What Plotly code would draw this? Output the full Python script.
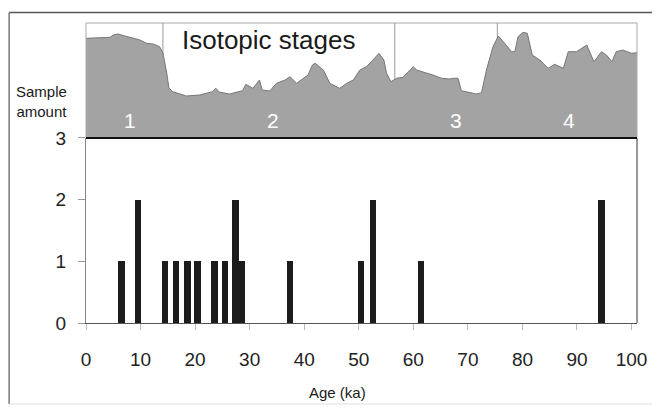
import plotly.graph_objects as go

# ---- data ----
bar_age = [6.5, 9.5, 14.5, 16.5, 18.6, 20.4, 23.6, 25.5, 27.4, 28.6, 37.4, 50.4, 52.6, 61.4, 94.5]
bar_count = [1, 2, 1, 1, 1, 1, 1, 1, 2, 1, 1, 1, 2, 1, 2]

curve_age = [0, 4.4, 5.0, 5.9, 6.8, 9.9, 11.1, 12.3, 13.5, 14.1, 14.8, 15.2, 15.9, 18.4, 20.8,
             23.2, 23.8, 24.4, 26.3, 28.7, 29.3, 30.6, 31.8, 32.3, 33.7, 34.9, 36.5, 37.4, 38.6,
             39.5, 40.7, 41.5, 42.0, 42.9, 43.5, 44.7, 46.5, 47.8, 49.0, 50.2, 51.4, 52.6, 53.7,
             54.6, 55.1, 55.9, 56.9, 58.1, 58.8, 60.0, 60.6, 61.8, 63.6, 65.2, 66.7, 67.3, 68.2,
             68.8, 70.4, 71.6, 72.5, 73.4, 74.6, 75.6, 76.5, 78.0, 78.6, 79.2, 80.1, 80.9, 81.8,
             83.2, 84.7, 85.9, 87.5, 88.4, 89.9, 91.8, 93.1, 94.5, 95.4, 96.4, 97.2, 98.4, 100.0, 101.0]
curve_val = [98.7, 99.7, 102, 103, 101.5, 97, 93.7, 93, 90.3, 84, 64, 49, 45.3, 41, 42,
             45.3, 48.7, 45, 43, 46.3, 52.7, 48.7, 57, 47, 46, 53.7, 57, 60.3, 53.7,
             57, 62, 72, 73.7, 69.7, 67, 53.7, 48.7, 53.7, 57, 67, 70.3, 77, 83.7,
             77, 63.7, 55.3, 58.7, 59.7, 63.7, 70.3, 67, 65.3, 62, 58.7, 58, 58.7, 58.7,
             46.3, 44.7, 43, 44.3, 67, 90.3, 101, 95.3, 85.3, 85.3, 100.3, 104.7, 103.7, 82,
             77, 68.7, 72.7, 68.7, 85.3, 85.3, 92, 75.3, 85.3, 82, 75.3, 85.3, 87, 83.7, 84.3]

stage_bounds = [14.1, 56.6, 75.4]
stage_labels = ["1", "2", "3", "4"]
stage_label_age = [8.1, 34.3, 67.8, 88.5]
x_ticks = [0, 10, 20, 30, 40, 50, 60, 70, 80, 90, 100]
y_ticks = [0, 1, 2, 3]

FONT = "Liberation Sans, Arial, sans-serif"
TOP_MAX = 114

fig = go.Figure()

# stage boundary lines (behind the fill)
for b in stage_bounds:
    fig.add_trace(go.Scatter(x=[b, b], y=[0, TOP_MAX], mode="lines",
                             line=dict(color="#9a9a9a", width=1),
                             xaxis="x2", yaxis="y2", showlegend=False, hoverinfo="skip"))

# isotope curve
fig.add_trace(go.Scatter(x=curve_age, y=curve_val, mode="lines", fill="tozeroy",
                         fillcolor="#a3a3a3", line=dict(color="#777777", width=1),
                         xaxis="x2", yaxis="y2", showlegend=False))

# bars
fig.add_trace(go.Bar(x=bar_age, y=bar_count, width=1.2, marker=dict(color="#1c1c1c", line=dict(width=0)),
                     xaxis="x", yaxis="y", showlegend=False))

# stage labels
for lab, a in zip(stage_labels, stage_label_age):
    fig.add_annotation(x=a, y=17, xref="x2", yref="y2", text=lab, showarrow=False,
                       font=dict(family=FONT, size=21, color="white"))

fig.add_annotation(x=33.4, y=97, xref="x2", yref="y2", text="Isotopic stages", showarrow=False,
                   font=dict(family=FONT, size=26, color="#1a1a1a"))

fig.add_annotation(x=-0.08, y=0.74, xref="paper", yref="paper", text="Sample<br>amount",
                   showarrow=False, align="center", xanchor="center", yanchor="middle",
                   font=dict(family=FONT, size=15, color="#1a1a1a"))

fig.add_annotation(x=0.457, y=-0.23, xref="paper", yref="paper", text="Age (ka)",
                   showarrow=False, xanchor="center", yanchor="middle",
                   font=dict(family=FONT, size=15, color="#1a1a1a"))

shapes = [
    # outer frame
    dict(type="line", xref="paper", yref="paper", x0=-0.1395, x1=1.05, y0=1.035, y1=1.035,
         line=dict(color="#555555", width=1.5)),
    dict(type="line", xref="paper", yref="paper", x0=-0.1395, x1=-0.1395, y0=-0.27, y1=1.035,
         line=dict(color="#777777", width=1.5)),
    dict(type="line", xref="paper", yref="paper", x0=-0.1395, x1=1.05, y0=-0.27, y1=-0.27,
         line=dict(color="#dddddd", width=1)),
    # top panel border
    dict(type="rect", xref="x2 domain", yref="y2 domain", x0=0, x1=1, y0=0, y1=1,
         line=dict(color="#a8a8a8", width=1)),
    # bottom panel right border and heavy top line
    dict(type="line", xref="x domain", yref="y domain", x0=1, x1=1, y0=0, y1=1,
         line=dict(color="#333333", width=1)),
    dict(type="line", xref="x domain", yref="y domain", x0=0, x1=1, y0=1, y1=1,
         line=dict(color="#111111", width=2)),
]

# the page places the figure 8px in from the top-left corner
fig.update_layout(
    width=652, height=400,
    margin=dict(l=78, r=23, t=15, b=85, autoexpand=False),
    paper_bgcolor="white", plot_bgcolor="white",
    showlegend=False, bargap=0,
    font=dict(family=FONT, color="#1a1a1a"),
    shapes=shapes,
    xaxis=dict(range=[0, 101], tickvals=x_ticks, ticks="outside", ticklen=6, tickcolor="#bbbbbb",
               showgrid=False, zeroline=False, showline=True, linecolor="#555555", linewidth=1,
               tickfont=dict(size=19, family=FONT, color="#222222"), ticklabelstandoff=13,
               anchor="y", domain=[0, 1], automargin=False),
    yaxis=dict(range=[0, 3], tickvals=y_ticks, ticks="outside", ticklen=7, tickcolor="#999999",
               showgrid=False, zeroline=False, showline=True, linecolor="#888888", linewidth=1,
               tickfont=dict(size=19, family=FONT, color="#222222"), ticklabelstandoff=8,
               domain=[0, 0.617], anchor="x", automargin=False),
    xaxis2=dict(range=[0, 101], matches="x", showticklabels=False, ticks="", showgrid=False,
                zeroline=False, showline=False, anchor="y2", automargin=False),
    yaxis2=dict(range=[0, TOP_MAX], showticklabels=False, ticks="", showgrid=False, zeroline=False,
                showline=False, domain=[0.62, 1], anchor="x2", automargin=False),
)

fig.write_html("out.html")
